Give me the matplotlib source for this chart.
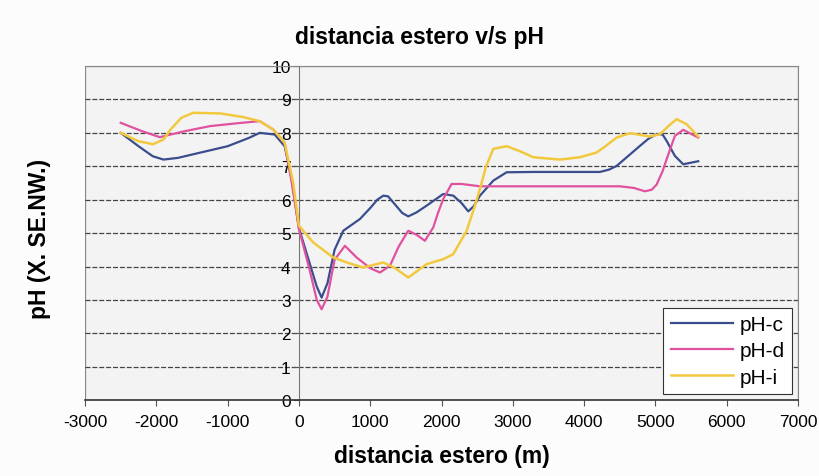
import numpy as np
import matplotlib.pyplot as plt
from matplotlib.patches import Rectangle

plt.rcParams['font.family'] = ['Liberation Sans', 'DejaVu Sans']
plt.rcParams['axes.unicode_minus'] = False

# values
x_c = [-2500, -2250, -2050, -1900, -1700, -1500, -1000, -700, -550, -340, -200, -100, 0, 150, 250,
       318, 400, 500, 622, 855, 1000, 1100, 1183, 1250, 1350, 1450, 1533, 1650, 1790, 2024, 2165,
       2280, 2375, 2450, 2539, 2726, 2913, 3300, 3941, 4222, 4350, 4456, 4783, 4900, 5016, 5100,
       5157, 5273, 5390, 5600]
y_c = [8.0, 7.6, 7.3, 7.2, 7.25, 7.35, 7.6, 7.85, 8.0, 7.95, 7.6, 6.6, 5.15, 4.1, 3.4,
       3.07, 3.5, 4.5, 5.07, 5.42, 5.75, 6.0, 6.12, 6.1, 5.85, 5.6, 5.5, 5.62, 5.82, 6.17, 6.12,
       5.9, 5.65, 5.8, 6.12, 6.57, 6.82, 6.83, 6.83, 6.83, 6.9, 7.01, 7.61, 7.82, 7.96, 7.95,
       7.76, 7.31, 7.06, 7.15]

x_d = [-2500, -2200, -1950, -1800, -1600, -1250, -900, -550, -360, -200, -100, 0, 150, 250, 318,
       400, 500, 645, 809, 1000, 1136, 1276, 1400, 1533, 1650, 1767, 1884, 1950, 2024, 2141,
       2281, 2539, 3300, 3941, 4502, 4700, 4853, 4950, 5016, 5100, 5157, 5273, 5390, 5600]
y_d = [8.3, 8.05, 7.87, 7.95, 8.05, 8.2, 8.28, 8.35, 8.1, 7.7, 6.5, 5.12, 3.9, 3.0, 2.72,
       3.1, 4.2, 4.62, 4.27, 3.95, 3.82, 4.02, 4.6, 5.07, 4.95, 4.77, 5.17, 5.6, 6.02, 6.47,
       6.47, 6.4, 6.4, 6.4, 6.4, 6.35, 6.25, 6.3, 6.45, 6.85, 7.21, 7.91, 8.09, 7.86]

x_i = [-2500, -2250, -2048, -1900, -1800, -1650, -1480, -1100, -780, -550, -360, -200, -80, 0,
       200, 481, 700, 902, 1050, 1183, 1350, 1533, 1650, 1790, 2024, 2165, 2352, 2450, 2539,
       2626, 2726, 2913, 3100, 3287, 3661, 3941, 4175, 4300, 4456, 4643, 4924, 5064, 5180,
       5297, 5437, 5600]
y_i = [8.0, 7.75, 7.66, 7.8, 8.1, 8.45, 8.6, 8.58, 8.47, 8.35, 8.1, 7.7, 6.5, 5.22,
       4.72, 4.27, 4.1, 3.97, 4.05, 4.12, 3.95, 3.67, 3.85, 4.07, 4.22, 4.37, 5.07, 5.7, 6.32,
       7.0, 7.52, 7.6, 7.45, 7.27, 7.2, 7.27, 7.41, 7.6, 7.86, 7.99, 7.89, 7.96, 8.2,
       8.41, 8.26, 7.89]

fig = plt.figure(figsize=(8.2, 4.77), dpi=100, facecolor='#fcfcfc')
ax = fig.add_axes([0.1037, 0.159, 0.8695, 0.7005])
ax.set_facecolor('#f3f3f3')

for yv in range(1, 10):
    ax.axhline(yv, color='#444444', lw=0.9, ls=(0, (4, 1.5)), zorder=1)

ax.plot(x_c, y_c, color='#3a4e8e', lw=1.6, label='pH-c', zorder=3)
ax.plot(x_d, y_d, color='#e0529f', lw=1.6, label='pH-d', zorder=3)
ax.plot(x_i, y_i, color='#f2c93e', lw=1.8, label='pH-i', zorder=3)

ax.set_xlim(-3000, 7000)
ax.set_ylim(0, 10)
ax.set_xticks(np.arange(-3000, 7001, 1000))
ax.set_yticks(np.arange(0, 11, 1))

ax.spines['left'].set_position(('data', 0))
ax.spines['left'].set_color('#777777')
ax.spines['bottom'].set_color('#333333')
ax.spines['bottom'].set_linewidth(1.2)
ax.spines['top'].set_color('#888888')
ax.spines['right'].set_color('#888888')
ax.add_patch(Rectangle((0, 0), 1, 1, transform=ax.transAxes, fill=False,
                       edgecolor='#888888', lw=0.9, zorder=0))

ax.tick_params(axis='y', length=4, direction='out', labelsize=12.5, pad=2, color='#555555')
ax.tick_params(axis='x', length=4, direction='out', labelsize=12.5, pad=6, color='#555555')

ax.set_xlabel('distancia estero (m)', fontsize=16.5, fontweight='bold', labelpad=11)
fig.text(0.048, 0.5, 'pH (X. SE.NW.)', rotation=90, fontsize=16.5, fontweight='bold',
         ha='center', va='center')
fig.text(0.512, 0.922, 'distancia estero v/s pH', fontsize=16.5, fontweight='bold',
         ha='center', va='center')

leg = ax.legend(loc='lower right', fontsize=15, frameon=True, fancybox=False,
                edgecolor='#333333', facecolor='white', framealpha=1,
                borderaxespad=0.3, handlelength=3.0, handletextpad=0.3,
                labelspacing=0.35, borderpad=0.35)
leg.get_frame().set_linewidth(0.8)

fig.savefig('out.png', dpi=100, facecolor=fig.get_facecolor())
